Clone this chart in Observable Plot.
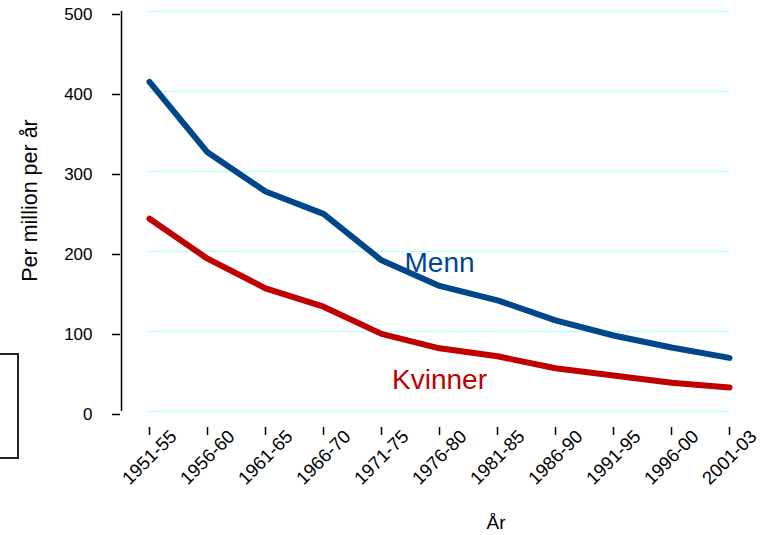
<!DOCTYPE html>
<html><head><meta charset="utf-8">
<script src="https://cdn.jsdelivr.net/npm/d3@7"></script>
<script src="https://cdn.jsdelivr.net/npm/@observablehq/plot@0.6"></script>
<style>
body{margin:0;background:#fff;}
#wrap{position:relative;width:770px;height:535px;overflow:hidden;font-family:"Liberation Sans",Arial,sans-serif;}
#wrap svg{position:absolute;left:0;top:0;}
.box{position:absolute;left:-20px;top:353px;width:35px;height:102px;border:2px solid #222;}
</style>
</head><body><div id="wrap"><div class="box"></div></div>
<script>
const periods = ["1951-55","1956-60","1961-65","1966-70","1971-75","1976-80","1981-85","1986-90","1991-95","1996-00","2001-03"];
const menn = [412,324,275,247,189,157,139,114,95,80,67];
const kvinner = [241,191,154,131,97,79,69,54,45,36,30];
const yTicks = [0,100,200,300,400,500];
const seriesNames = ["Menn","Kvinner"];
const seriesColors = ["#00468b","#c00000"];
const labelPeriods = ["1976-80","1976-80"];
const labelValues = [185,39];
const xTitle = "År";
const yTitle = "Per million per år";

const data = [
  ...periods.map((p,i)=>({period:p, value:menn[i], series:seriesNames[0]})),
  ...periods.map((p,i)=>({period:p, value:kvinner[i], series:seriesNames[1]}))
];
const labels = seriesNames.map((s,i)=>({series:s, period:labelPeriods[i], value:labelValues[i]}));

const chart = Plot.plot({
  width:770, height:535,
  marginLeft:148, marginRight:41, marginTop:11, marginBottom:124,
  style:{fontFamily:"'Liberation Sans', Arial, sans-serif", background:"transparent", color:"#000"},
  x:{type:"point", domain:periods, padding:0, label:null},
  y:{domain:[0,500], label:null},
  color:{domain:seriesNames, range:seriesColors},
  marks:[
    Plot.ruleY(yTicks, {stroke:"#bdfcfc", strokeWidth:1.5}),
    Plot.ruleX([periods[0]], {y1:0, y2:500, dx:-28, stroke:"#000", strokeWidth:1.5}),
    Plot.axisY({ticks:yTicks, tickSize:8, dx:-28, tickPadding:20, dy:3, fontSize:17, label:null, stroke:"#000", strokeWidth:1.5, fill:"#000"}),
    Plot.ruleY([0], {x1:periods[0], x2:periods[periods.length-1], dy:16, stroke:"#000", strokeWidth:1.5}),
    Plot.axisX({tickSize:8, dy:16, tickFormat:()=>"", label:null, stroke:"#000", strokeWidth:1.5}),
    Plot.text(periods, {x:d=>d, frameAnchor:"bottom", dy:46, rotate:-45, textAnchor:"middle", lineAnchor:"middle", fontSize:18.5, fill:"#000"}),
    Plot.line(data, {x:"period", y:"value", z:"series", stroke:"series", strokeWidth:6, strokeLinecap:"round", strokeLinejoin:"round"}),
    Plot.text(labels, {x:"period", y:"value", text:"series", fill:"series", fontSize:28, lineAnchor:"middle"}),
    Plot.text([xTitle], {frameAnchor:"bottom", dx:57, dy:111, fontSize:19, fill:"#000", textAnchor:"middle", lineAnchor:"middle"}),
    Plot.text([yTitle], {frameAnchor:"left", rotate:-90, dx:-118, dy:-11, fontSize:21.5, fill:"#000", textAnchor:"middle", lineAnchor:"middle"})
  ]
});
document.getElementById("wrap").appendChild(chart);
</script>
</body></html>
